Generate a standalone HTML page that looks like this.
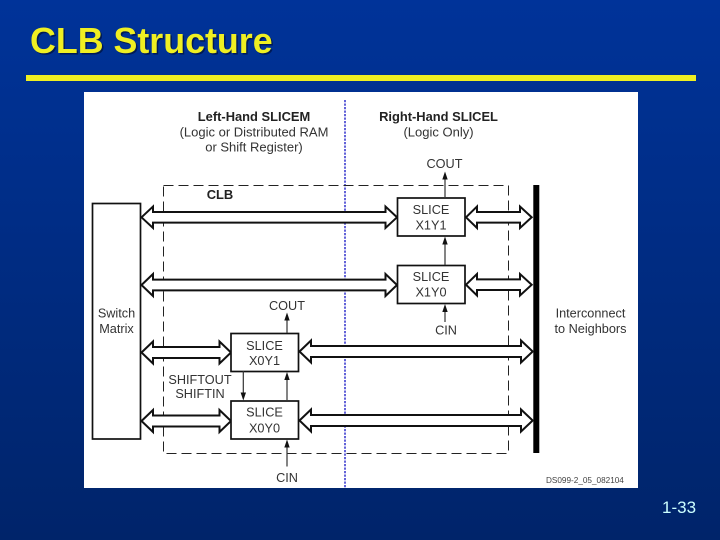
<!DOCTYPE html>
<html>
<head>
<meta charset="utf-8">
<style>
html,body{margin:0;padding:0;width:720px;height:540px;overflow:hidden;background:#002a78}
svg{display:block}
text{font-family:"Liberation Sans",sans-serif}
.l{font-size:12.7px;fill:#333;text-anchor:middle}
.h1{font-size:13px;fill:#333;text-anchor:middle}
.b{font-size:12.9px;fill:#222;font-weight:bold;text-anchor:middle}
.a{fill:#fff;stroke:#111;stroke-width:2;stroke-linejoin:miter}
.t{stroke:#333;stroke-width:1.2;fill:none}
.h{fill:#111;stroke:none}
.box{fill:#fff;stroke:#111;stroke-width:1.7}
</style>
</head>
<body>
<svg width="720" height="540" viewBox="0 0 720 540" xmlns="http://www.w3.org/2000/svg">
<defs>
<linearGradient id="g" x1="0" y1="0" x2="0" y2="1">
<stop offset="0" stop-color="#003399"/>
<stop offset="1" stop-color="#00246a"/>
</linearGradient>
</defs>
<rect width="720" height="540" fill="url(#g)"/>
<text x="31.5" y="54.500" font-size="35.8" font-weight="bold" fill="#001a55">CLB Structure</text>
<text x="30" y="53" font-size="35.8" font-weight="bold" fill="#efef22">CLB Structure</text>
<rect x="26" y="75" width="670" height="6" fill="#efef22"/>
<text x="662" y="513" font-size="17" fill="#ccffff">1-33</text>
<rect x="84" y="92" width="554" height="396" fill="#fff"/>

<line x1="345" y1="100" x2="345" y2="488" stroke="#2020c8" stroke-width="1.4" stroke-dasharray="2.2 1.3"/>
<rect x="163.500" y="185.500" width="345" height="268" fill="none" stroke="#222" stroke-width="1" stroke-dasharray="10 5"/>
<rect x="92.500" y="203.500" width="48" height="235.500" class="box"/>
<rect x="533.300" y="185" width="6" height="268" fill="#000"/>

<!-- Big double arrows -->
<path class="a" d="M141.500 217.300L153 206.500V212H385.500V206.500L397 217.300L385.500 228V222.600H153V228Z"/>
<path class="a" d="M141.500 285L153 274V279.600H385.500V274L397 285L385.500 296V290.400H153V296Z"/>
<path class="a" d="M466 217.300L477 206.500V212H520V206.500L531.700 217.300L520 228V222.600H477V228Z"/>
<path class="a" d="M466 284.700L477 274V279.400H520V274L531.700 284.700L520 295.500V290H477V295.500Z"/>
<path class="a" d="M141.500 352.500L153 341.500V347H219.500V341.500L231 352.500L219.500 363.500V358H153V363.500Z"/>
<path class="a" d="M141.500 421L153 410V415.500H219.500V410L231 421L219.500 432V426.500H153V432Z"/>
<path class="a" d="M299.500 351.500L311 340.500V346H521V340.500L532.700 351.500L521 362.500V357H311V362.500Z"/>
<path class="a" d="M299.500 420.500L311 409.500V415H521V409.500L532.700 420.500L521 431.500V426H311V431.500Z"/>

<!-- Slices -->
<rect x="397.500" y="198" width="67.500" height="38" class="box"/>
<rect x="397.500" y="265.500" width="67.500" height="38" class="box"/>
<rect x="231" y="333.500" width="67.500" height="38" class="box"/>
<rect x="231" y="401" width="67.500" height="38" class="box"/>

<!-- Thin arrows -->
<line class="t" x1="445" y1="178" x2="445" y2="197"/><path class="h" d="M445 171.500L442.300 179.500H447.700Z"/>
<line class="t" x1="445" y1="243" x2="445" y2="265"/><path class="h" d="M445 236.500L442.300 244.500H447.700Z"/>
<line class="t" x1="445" y1="311" x2="445" y2="322"/><path class="h" d="M445 304L442.300 312H447.700Z"/>
<line class="t" x1="287" y1="319" x2="287" y2="333"/><path class="h" d="M287 312.500L284.300 320.500H289.700Z"/>
<line class="t" x1="287" y1="378" x2="287" y2="401"/><path class="h" d="M287 372L284.300 380H289.700Z"/>
<line class="t" x1="287" y1="446" x2="287" y2="466.500"/><path class="h" d="M287 439.500L284.300 447.500H289.700Z"/>
<line class="t" x1="243.300" y1="371" x2="243.300" y2="394"/><path class="h" d="M243.300 400.500L240.600 392.500H246Z"/>

<!-- Labels -->
<text class="b" x="254" y="121">Left-Hand SLICEM</text>
<text class="h1" x="254" y="136.500">(Logic or Distributed RAM</text>
<text class="h1" x="254" y="151.500">or Shift Register)</text>
<text class="b" x="438.500" y="121">Right-Hand SLICEL</text>
<text class="h1" x="438.500" y="136.500">(Logic Only)</text>
<text class="l" x="444.500" y="168">COUT</text>
<text class="b" x="220" y="199">CLB</text>
<text class="l" x="431" y="214">SLICE</text>
<text class="l" x="431" y="229.500">X1Y1</text>
<text class="l" x="431" y="281">SLICE</text>
<text class="l" x="431" y="296.500">X1Y0</text>
<text class="l" x="116.500" y="317.500">Switch</text>
<text class="l" x="116.500" y="333">Matrix</text>
<text class="l" x="287" y="310">COUT</text>
<text class="l" x="446" y="334.500">CIN</text>
<text class="l" x="264.500" y="350">SLICE</text>
<text class="l" x="264.500" y="365">X0Y1</text>
<text class="l" x="200" y="384">SHIFTOUT</text>
<text class="l" x="200" y="398">SHIFTIN</text>
<text class="l" x="264.500" y="416.500">SLICE</text>
<text class="l" x="264.500" y="432.500">X0Y0</text>
<text class="l" x="287" y="482">CIN</text>
<text class="l" x="590.500" y="317.500">Interconnect</text>
<text class="l" x="590.500" y="333">to Neighbors</text>
<text x="546" y="483" font-size="8.2" fill="#444">DS099-2_05_082104</text>
</svg>
</body>
</html>
